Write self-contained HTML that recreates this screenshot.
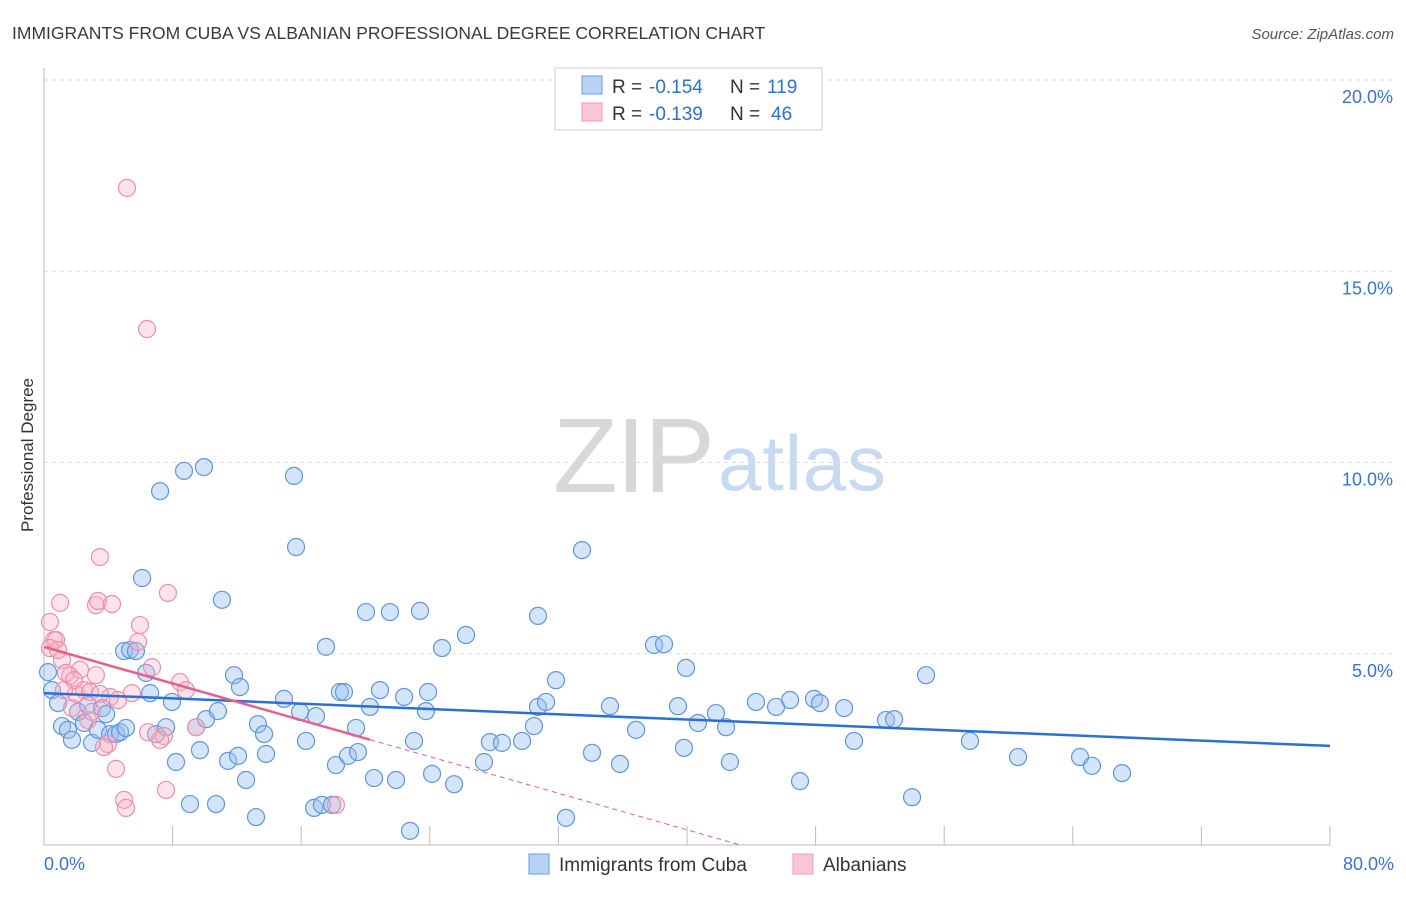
<!DOCTYPE html>
<html><head><meta charset="utf-8"><style>
body{margin:0;background:#fff;font-family:"Liberation Sans",sans-serif}
svg text{font-family:"Liberation Sans",sans-serif}
</style></head><body>
<svg id="chart" width="1406" height="892" xmlns="http://www.w3.org/2000/svg">
<text x="12" y="39" font-size="17.5" fill="#3a3a3a">IMMIGRANTS FROM CUBA VS ALBANIAN PROFESSIONAL DEGREE CORRELATION CHART</text>
<text x="1394" y="39" font-size="15" fill="#555" font-style="italic" text-anchor="end">Source: ZipAtlas.com</text>
<g>
<text x="553" y="492" font-size="106" fill="#d8d8d8" font-family="Liberation Serif" textLength="162">ZIP</text>
<text x="718" y="490" font-size="78" fill="#c8daf2" textLength="168">atlas</text>
</g>
<g id="grid"></g>
<g id="axes"></g>
<g id="marks"></g>
<text transform="translate(33,455) rotate(-90)" font-size="17" fill="#333" text-anchor="middle">Professional Degree</text>
<g>
<rect x="555" y="68" width="267" height="62" fill="#fff" stroke="#ccc"/>
<rect x="582" y="76" width="20" height="18" fill="#b8d2f5" stroke="#6a9ee6"/>
<rect x="582" y="103" width="20" height="18" fill="#fac6d4" stroke="#f29ab4"/>
<text x="612" y="93" font-size="19" fill="#333">R =</text>
<text x="649" y="93" font-size="19" fill="#2f6fd6">-0.154</text>
<text x="730" y="93" font-size="19" fill="#333">N =</text>
<text x="767" y="93" font-size="19" fill="#2f6fd6">119</text>
<text x="612" y="120" font-size="19" fill="#333">R =</text>
<text x="649" y="120" font-size="19" fill="#2f6fd6">-0.139</text>
<text x="730" y="120" font-size="19" fill="#333">N =</text>
<text x="771" y="120" font-size="19" fill="#2f6fd6">46</text>
</g>
<g>
<rect x="529" y="854" width="20" height="20" fill="#b8d2f5" stroke="#6a9ee6"/>
<text x="559" y="871" font-size="19" fill="#333">Immigrants from Cuba</text>
<rect x="793" y="854" width="20" height="20" fill="#fac6d4" stroke="#f29ab4"/>
<text x="823" y="871" font-size="19" fill="#333">Albanians</text>
</g>
</svg>
<script>
const yTicks=[5,10,15,20];
const yTickLabels=["5.0%","10.0%","15.0%","20.0%"];
const xTickValues=[0,8,16,24,32,40,48,56,64,72,80];
const xEndLabels=["0.0%","80.0%"];
const cubaX=[0.5,0.87,1.12,1.49,1.74,2.12,2.49,2.74,2.99,3.36,3.61,3.86,4.11,4.48,4.73,4.98,5.10,5.35,5.72,6.10,6.35,6.60,6.97,7.22,7.59,7.96,8.21,8.71,9.08,9.46,9.70,9.95,10.08,10.70,10.82,11.07,11.45,11.82,12.07,12.19,12.57,13.19,13.31,13.69,13.81,14.93,15.55,15.68,15.93,16.30,16.80,16.92,17.29,17.54,17.92,18.16,18.41,18.66,18.91,19.41,19.53,20.03,20.28,20.53,20.90,21.52,21.90,22.40,22.77,23.02,23.39,23.76,23.89,24.14,24.76,25.51,26.25,27.37,27.74,28.49,29.74,30.48,30.73,30.73,31.23,31.85,32.47,33.47,34.09,35.21,35.83,36.83,37.95,38.57,39.44,39.81,39.94,40.68,41.80,42.43,42.67,44.29,45.54,46.41,47.03,47.90,48.27,49.77,50.39,52.38,52.88,54.00,54.87,57.60,60.59,64.45,65.19,67.06,0.25];
const cubaY=[4.05,3.71,3.11,3.01,2.75,3.48,3.19,3.66,2.67,3.01,3.58,3.42,2.90,2.90,2.95,5.07,3.06,5.10,5.07,6.98,4.50,3.97,2.90,9.25,3.08,3.74,2.17,9.78,1.07,3.08,2.48,9.88,3.29,1.07,3.50,6.41,2.20,4.44,2.33,4.13,1.70,0.73,3.16,2.90,2.38,3.82,9.65,7.79,3.48,2.72,0.97,3.37,1.05,5.18,1.05,2.09,4.00,4.00,2.33,3.06,2.43,6.09,3.61,1.75,4.05,6.09,1.70,3.87,0.37,2.72,6.12,3.50,4.00,1.86,5.15,1.59,5.49,2.17,2.69,2.67,2.72,3.11,3.61,5.99,3.74,4.31,0.71,7.71,2.41,3.63,2.12,3.01,5.23,5.25,3.63,2.54,4.63,3.19,3.45,3.08,2.17,3.74,3.61,3.79,1.67,3.82,3.71,3.58,2.72,3.27,3.29,1.25,4.44,2.72,2.30,2.30,2.07,1.88,4.52];
const albX=[5.16,6.41,3.48,1.00,3.23,3.36,4.23,7.71,0.37,0.62,0.75,5.97,5.85,0.37,1.12,2.24,1.62,1.37,3.23,2.49,1.99,2.86,4.11,6.72,8.46,8.83,3.48,5.47,9.46,2.74,3.98,3.73,6.47,7.46,7.22,4.48,4.98,5.10,7.59,18.16,0.87,1.87,1.24,2.99,4.60,1.74];
const albY=[17.18,13.49,7.53,6.33,6.27,6.38,6.30,6.59,5.83,5.36,5.36,5.75,5.31,5.15,4.84,4.58,4.42,4.50,4.44,4.05,3.95,4.00,3.87,4.65,4.26,4.05,3.95,3.97,3.08,3.27,2.64,2.56,2.95,2.85,2.75,1.99,1.18,0.97,1.44,1.05,5.10,4.31,4.05,3.48,3.79,3.58];
const cubaTrend=[3.97,2.59];      // value at x=0, x=80
const albTrend=[5.18,-0.1196];    // intercept, slope
const albSolidEnd=20.28;

const NS="http://www.w3.org/2000/svg";
const X=v=>44+v/80*1286;
const Y=v=>845-v*38.25;
function mk(tag,attrs,parent){const e=document.createElementNS(NS,tag);for(const k in attrs)e.setAttribute(k,attrs[k]);document.getElementById(parent).appendChild(e);return e;}

yTicks.forEach((t,i)=>{
  const l=mk('line',{x1:44,x2:1394,y1:Y(t),y2:Y(t),stroke:'#ddd','stroke-dasharray':'4,4'},'grid');
  
  
  const tx=mk('text',{x:1393,y:Y(t)+23,'font-size':18,fill:'#3b73d4','text-anchor':'end'},'axes');
  tx.textContent=yTickLabels[i];
  
  
});
const ya=mk('line',{x1:44,x2:44,y1:68,y2:845,stroke:'#bbb'},'axes');


const xa=mk('line',{x1:44,x2:1330,y1:845,y2:845,stroke:'#bbb'},'axes');


xTickValues.forEach(t=>{
  const l=mk('line',{x1:X(t),x2:X(t),y1:826,y2:845,stroke:'#bbb'},'axes');
  
  
});
[[0,'start',44],[80,'end',1394]].forEach((d,i)=>{
  const tx=mk('text',{x:d[2],y:870,'font-size':18,fill:'#3b73d4','text-anchor':d[1]},'axes');
  tx.textContent=xEndLabels[i];
  
  
});
cubaX.forEach((x,i)=>{
  const c=mk('circle',{cx:X(x),cy:Y(cubaY[i]),r:8.5,fill:'rgba(150,190,240,0.4)',stroke:'#5f95e2','stroke-width':1.2},'marks');
  
  
});
albX.forEach((x,i)=>{
  const c=mk('circle',{cx:X(x),cy:Y(albY[i]),r:8.5,fill:'rgba(248,175,195,0.35)',stroke:'#f08fac','stroke-width':1.2},'marks');
  
  
});
const bl=mk('line',{x1:X(0),y1:Y(cubaTrend[0]),x2:X(80),y2:Y(cubaTrend[1]),stroke:'#2a6fd6','stroke-width':2.5},'marks');


const zeroX=-albTrend[0]/albTrend[1];
const pd=mk('line',{x1:X(albSolidEnd),y1:Y(albTrend[0]+albTrend[1]*albSolidEnd),x2:X(zeroX),y2:Y(0),stroke:'#e8608a','stroke-width':1,'stroke-dasharray':'5,4'},'marks');


const pl=mk('line',{x1:X(0),y1:Y(albTrend[0]),x2:X(albSolidEnd),y2:Y(albTrend[0]+albTrend[1]*albSolidEnd),stroke:'#e8608a','stroke-width':2.5},'marks');


</script>
</body></html>
